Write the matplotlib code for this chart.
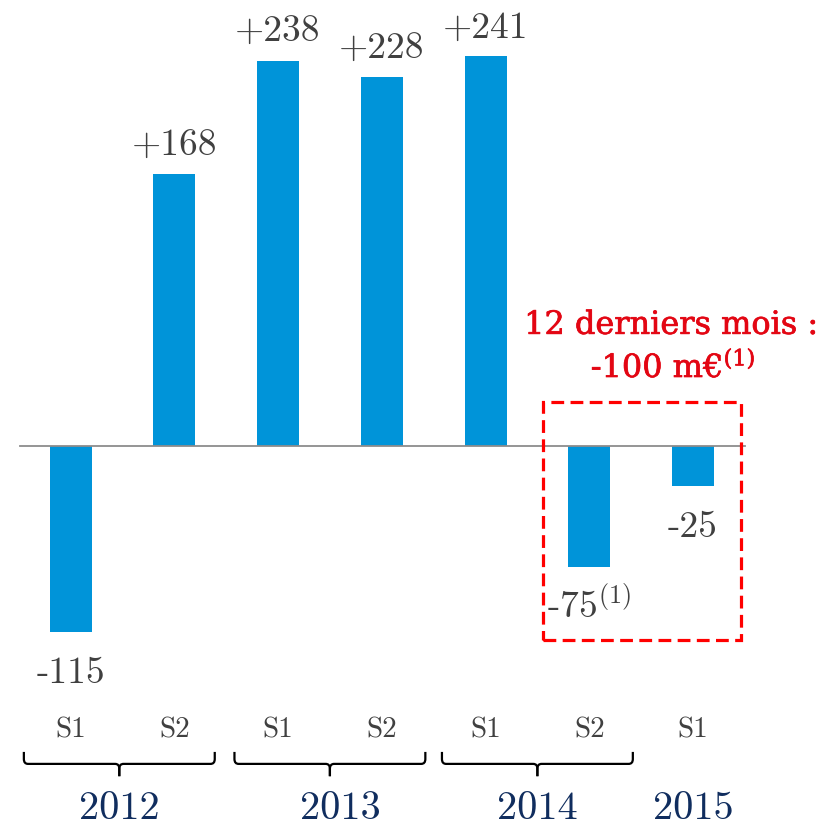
import matplotlib
matplotlib.use('Agg')
import matplotlib.pyplot as plt
import matplotlib.patheffects as pe
from matplotlib.patches import Rectangle, PathPatch
from matplotlib.path import Path

# half-year results (m€)
periods = ['S1', 'S2', 'S1', 'S2', 'S1', 'S2', 'S1']
values = [-115, 168, 238, 228, 241, -75, -25]
value_labels = ['-115', '+168', '+238', '+228', '+241', '-75$^{(1)}$', '-25']
years = ['2012', '2013', '2014', '2015']
year_groups = [(0, 1), (2, 3), (4, 5), (6, 6)]
ltm_title = '12 derniers mois :'
ltm_value = '-100 m€$^{(1)}$'

BLUE = '#0094d9'
GREY = '#404040'
NAVY = '#102d5e'
RED = '#e30613'
FONT = ['cmr10', 'DejaVu Serif']

plt.rcParams['mathtext.fontset'] = 'dejavuserif'
plt.rcParams['axes.unicode_minus'] = False

fig = plt.figure(figsize=(8.37, 8.29), dpi=100)
ax = fig.add_axes([0, 0, 1, 1])
ax.set_xlim(-0.680, 7.388)
ax.set_ylim(-236.0, 276.1)
ax.axis('off')

x = list(range(len(values)))
ax.bar(x, values, width=0.405, color=BLUE, zorder=2)
ax.plot([-0.487, 6.50], [0, 0], color='#8c8c8c', lw=1.3, zorder=3)

for xi, v, lab in zip(x, values, value_labels):
    off = 14 if v > 0 else -36
    ax.annotate(lab, (xi, v), xytext=(0, off), textcoords='offset points',
                ha='center', va='baseline', fontsize=27, color=GREY,
                family=FONT, math_fontfamily='cm')

for xi, p in zip(x, periods):
    ax.text(xi, -175, p, ha='center', va='center', fontsize=21,
            color=GREY, family=FONT)


def brace(x0, x1, yh, yt, yb, dx=0.04, dy=3.0):
    xc = (x0 + x1) / 2
    codes = [Path.MOVETO, Path.LINETO, Path.CURVE3, Path.CURVE3,
             Path.LINETO, Path.CURVE3, Path.CURVE3, Path.LINETO]
    for a, s in ((x0, 1), (x1, -1)):
        verts = [(a, yt), (a, yh + dy), (a, yh), (a + s * dx, yh),
                 (xc - s * dx, yh), (xc, yh), (xc, yh - dy), (xc, yb)]
        ax.add_patch(PathPatch(Path(verts, codes), fill=False,
                               lw=1.6, color='black', capstyle='butt'))


# small nudges of the year labels / braces
year_shift = [-0.03, 0.1, 0.0, 0.0]
for yr, (a, b), dxl in zip(years, year_groups, year_shift):
    xc = (a + b) / 2
    if b > a:
        bc = xc + min(dxl, 0)
        brace(bc - 0.92, bc + 0.92, -196.4, -189.0, -204.0)
    ax.text(xc + dxl, -224, yr, ha='center', va='center', fontsize=29,
            color=NAVY, family=FONT)

# last twelve months box
ax.add_patch(Rectangle((4.554, -119.8), 6.463 - 4.554, 27.2 + 119.8,
                       fill=False, ec='#ff0000', lw=2.3,
                       ls=(0, (4, 2)), zorder=4))
heavy = [pe.withStroke(linewidth=0.5, foreground=RED)]
ax.text(5.79, 74.5, ltm_title, ha='center', va='center', fontsize=23,
        color=RED, family='DejaVu Serif', path_effects=heavy)
ax.text(5.81, 48.5, ltm_value, ha='center', va='center', fontsize=23,
        color=RED, family='DejaVu Serif', path_effects=heavy)

fig.savefig('out.png', dpi=100)
